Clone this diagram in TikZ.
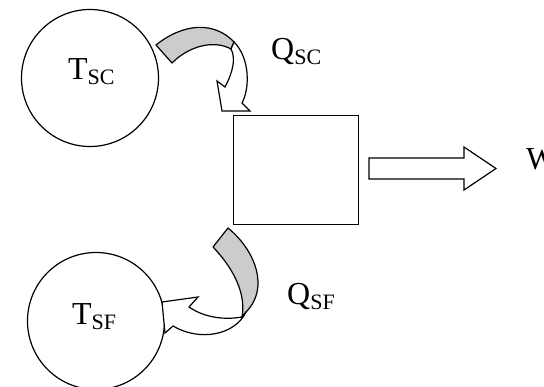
\documentclass[tikz,border=0pt]{standalone}
\usepackage{fontspec}
\setmainfont{Liberation Serif}
\definecolor{band}{HTML}{CCCCCC}
\newcommand{\lowsub}[1]{\raisebox{-5pt}{\fontsize{22}{22}\selectfont #1}}

\begin{document}
\begin{tikzpicture}[
  x=1pt,y=-1pt,
  disc/.style={draw,circle,line width=1.2pt,minimum size=137pt,inner sep=0pt},
  lbl/.style={font=\fontsize{32}{32}\selectfont,inner sep=0pt,anchor=base west},
  face/.style={draw,line width=1.2pt,line join=miter,fill=white},
  back/.style={draw,line width=1.2pt,line join=round,fill=band}
]
\useasboundingbox (0,0) rectangle (544,387);
\node[disc] (tsc) at (90,78) {};
\node[disc] (tsf) at (96,321) {};
\node[draw,line width=1.2pt,minimum width=125pt,minimum height=109pt,inner sep=0pt] (eng) at (296,170) {};
\node[lbl] (tsclbl) at (68,80) {T\lowsub{SC}};
\node[lbl] (tsflbl) at (72,325) {T\lowsub{SF}};
\node[lbl] (qsc) at (271,60) {Q\lowsub{SC}};
\node[lbl] (qsf) at (287,305) {Q\lowsub{SF}};
\node[lbl] (work) at (526,170) {W};
% heat in
\draw[back] (156,45) .. controls (185,22) and (215,22) .. (234,42) -- (231,49)
  .. controls (215,40) and (190,45) .. (172,63) -- cycle;
\draw[face] (234,42) .. controls (250,58) and (250,88) .. (242,103) -- (250,111)
  -- (222,111) -- (217,81) -- (225,87) .. controls (233,72) and (236,58) .. (231,49) -- cycle;
% heat out
\draw[back] (213,247) -- (228,228) .. controls (255,250) and (270,288) .. (246,312)
  -- (242,317) .. controls (246,295) and (235,270) .. (213,247) -- cycle;
\draw[face] (246,312) .. controls (235,335) and (200,342) .. (173,326) -- (165,333)
  -- (162,302) -- (198,297) -- (189,307) .. controls (205,318) and (225,320) .. (242,317) -- cycle;
% work out
\draw[face] (369,158) -- (464,158) -- (464,147) -- (496,168.5) -- (464,190)
  -- (464,179) -- (369,179) -- cycle;
\end{tikzpicture}
\end{document}
